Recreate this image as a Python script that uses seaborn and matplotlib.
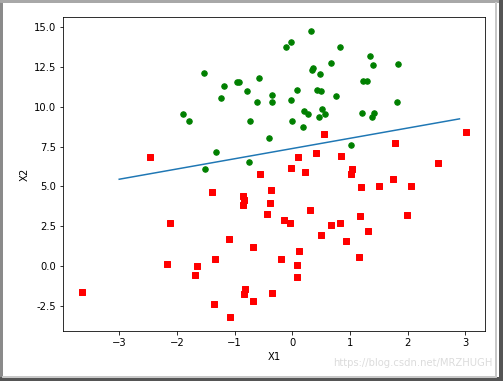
import numpy as np
import pandas as pd
import matplotlib
matplotlib.use("Agg")
import matplotlib.pyplot as plt
import seaborn as sns
from matplotlib.patches import Rectangle

# data (x1, x2, label)
x1 = [-0.017612, -1.395634, -0.752157, -1.322371, 0.423363, 0.406704, 0.667394, -2.460150, 0.569411, -0.026632,
      0.850433, 1.347183, 1.176813, -1.781871, -0.566606, 0.931635, -0.024205, -0.036453, -0.196949, 1.014459,
      1.985298, -1.693453, -0.576525, -0.346811, -2.124484, 1.217916, -0.733928, -3.642001, 0.315985, 1.416614,
      -0.386323, 0.556921, 1.224863, -1.347803, 1.196604, 0.275221, 0.470575, -1.889567, -1.527893, -1.185247,
      -0.445678, 1.042222, -0.618787, 1.152083, 0.828534, -1.237728, -0.683565, 0.229456, -0.959885, 0.492911,
      0.184992, -0.355715, -0.397822, 0.824839, 1.507278, 0.099671, -0.344008, 1.785928, -0.918801, -0.364009,
      -0.841722, 0.490426, -0.007194, 0.356107, 0.342578, -0.810823, 2.530777, 1.296683, 0.475487, -0.783277,
      0.074798, -1.337472, -0.102781, -0.147324, 0.518389, 1.015399, -1.658086, 1.319944, 2.056216, -0.851633,
      -1.510047, -1.076637, 1.821096, 3.010150, -1.099458, -0.834872, -0.846637, 1.400102, 1.752842, 0.078557,
      0.089392, 1.825662, 0.197445, 0.126117, -0.679797, 0.677983, 0.761349, -2.168791, 1.388610, 0.317029]
x2 = [14.053064, 4.662541, 6.538620, 7.152853, 11.054677, 7.067335, 12.741452, 6.866805, 9.548755, 10.427743,
      6.920334, 13.175500, 3.167020, 9.097953, 5.749003, 1.589505, 6.151823, 2.690988, 0.444165, 5.754399,
      3.230619, -0.557540, 11.778922, -1.678730, 2.672471, 9.597015, 9.098687, -1.618087, 3.523953, 9.619232,
      3.989286, 8.294984, 11.587360, -2.406051, 4.951851, 9.543647, 9.332488, 9.542662, 12.150579, 11.309318,
      3.297303, 6.105155, 10.320986, 0.548467, 2.676045, 10.549033, -2.166125, 5.921938, 11.555336, 10.993324,
      8.721488, 10.325976, 8.058397, 13.730343, 5.027866, 6.835839, 10.717485, 7.718645, 11.560217, 4.747300,
      4.119083, 1.960539, 9.075792, 12.447863, 12.281162, -1.466018, 6.476801, 11.607559, 12.040035, 11.009725,
      11.023650, 0.468339, 13.763651, 2.874846, 9.887035, 7.571882, -0.027255, 2.171228, 5.019981, 4.375691,
      6.061992, -3.181888, 10.283990, 8.401766, 1.688274, -1.733869, 3.849075, 12.628781, 5.468166, 0.059736,
      -0.715300, 12.693808, 9.744638, 0.922311, 1.220530, 2.556666, 10.693862, 0.143632, 9.341997, 14.739025]
labels = [0, 1, 0, 0, 0, 1, 0, 1, 0, 0,
          1, 0, 1, 0, 1, 1, 1, 1, 1, 1,
          1, 1, 0, 1, 1, 0, 0, 1, 1, 0,
          1, 1, 0, 1, 1, 0, 0, 0, 0, 0,
          1, 1, 0, 1, 1, 0, 1, 1, 0, 0,
          0, 0, 0, 0, 1, 1, 0, 1, 0, 1,
          1, 1, 0, 0, 0, 1, 1, 0, 0, 0,
          0, 1, 0, 1, 0, 0, 1, 1, 1, 1,
          0, 1, 0, 1, 1, 1, 1, 0, 1, 1,
          1, 0, 0, 1, 1, 1, 0, 1, 0, 0]

# decision boundary endpoints
x_line = [-3.0, 2.9]
y_line = [5.45, 9.24]

x_label = "X1"
y_label = "X2"
watermark = "https://blog.csdn.net/MRZHUGH"

df = pd.DataFrame({"x1": x1, "x2": x2, "label": labels})

W, H, DPI = 503, 381, 72
fig = plt.figure(figsize=(W / DPI, H / DPI), dpi=DPI)
ax = fig.add_axes([63 / W, 1 - 331 / H, (485 - 63) / W, (331 - 17) / H])

sns.scatterplot(data=df[df.label == 1], x="x1", y="x2", color="red", marker="s", s=30,
                edgecolor="red", linewidth=1, ax=ax, legend=False)
sns.scatterplot(data=df[df.label == 0], x="x1", y="x2", color="green", marker="o", s=30,
                edgecolor="green", linewidth=1, ax=ax, legend=False)
sns.lineplot(x=x_line, y=y_line, ax=ax, color="#1f77b4", linewidth=1.5)

ax.set_xlabel(x_label, fontsize=10)
ax.set_ylabel(y_label, fontsize=10)
ax.tick_params(labelsize=10)
ax.yaxis.set_major_formatter(matplotlib.ticker.FormatStrFormatter("%.1f"))

# watermark
fig.text(493 / W, 1 - 363 / H, watermark, ha="right", va="center", fontsize=10, color="#dcdcdc")

# screenshot frame
fig.patches.append(Rectangle((0, 0), 2 / W, 1, transform=fig.transFigure, color="#8a8a8a", zorder=10))
fig.patches.append(Rectangle((0, 1 - 2 / H), 1, 2 / H, transform=fig.transFigure, color="#a8a8a8", zorder=10))
fig.patches.append(Rectangle((1 - 4 / W, 0), 4 / W, 1, transform=fig.transFigure, color="#555555", zorder=10))
fig.patches.append(Rectangle((0, 0), 1, 4 / H, transform=fig.transFigure, color="#555555", zorder=10))
fig.patches.append(Rectangle((1 - 8 / W, 4 / H), 1 / W, 1 - 6 / H, transform=fig.transFigure, color="#c8c8c8", zorder=10))
fig.patches.append(Rectangle((2 / W, 4 / H), 1 - 10 / W, 1 / H, transform=fig.transFigure, color="#c8c8c8", zorder=10))

fig.savefig("out.png", dpi=DPI)
